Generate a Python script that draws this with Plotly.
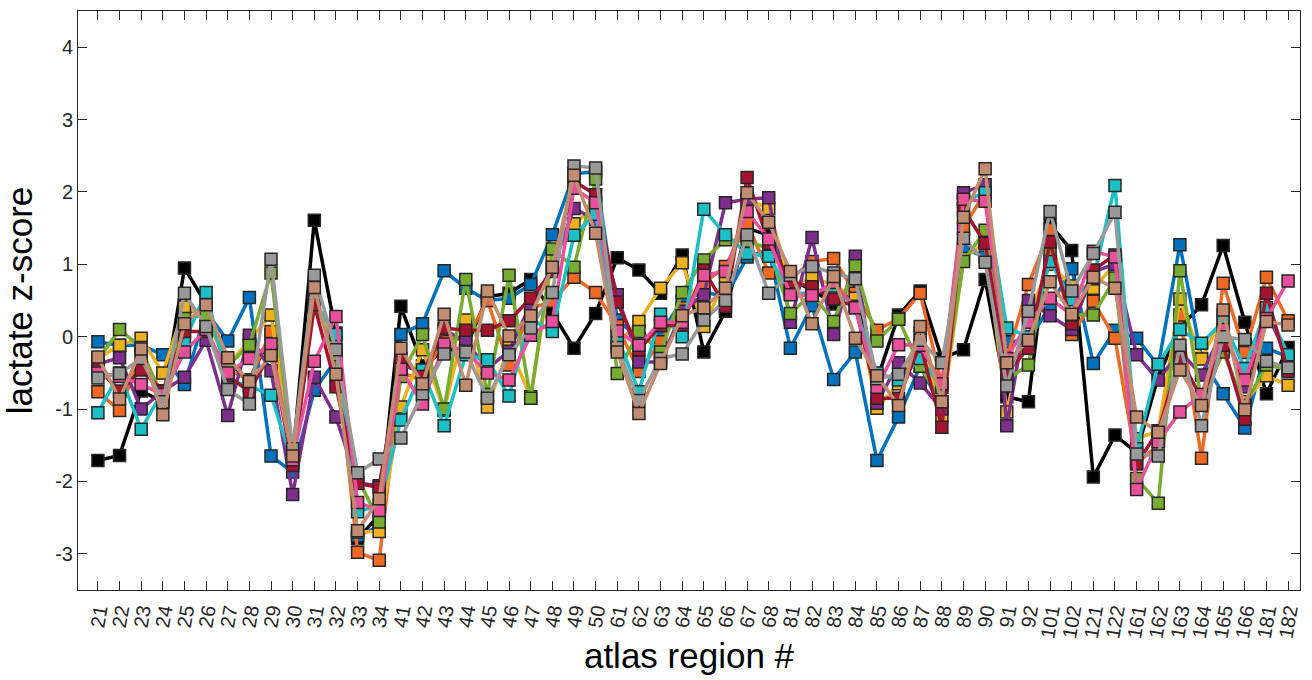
import plotly.graph_objects as go

regions = ["21","22","23","24","25","26","27","28","29","30","31","32","33","34",
           "41","42","43","44","45","46","47","48","49","50",
           "61","62","63","64","65","66","67","68",
           "81","82","83","84","85","86","87","88","89","90",
           "91","92","101","102","121","122",
           "161","162","163","164","165","166","181","182"]

s_black = [-1.71,-1.64,-0.75,-0.9,0.95,0.45,-0.35,-0.6,0.03,-1.7,1.61,0.05,-2.79,-2.47,0.42,-0.4,-0.2,-0.15,0.55,0.6,0.79,0.33,-0.16,0.32,1.09,0.92,0.6,1.13,-0.21,0.35,1.5,1.4,0.78,0.65,0.45,0.62,-0.6,0.3,0.63,-0.3,-0.18,0.79,-0.83,-0.9,1.55,1.19,-1.94,-1.36,-1.6,-0.55,0.12,0.44,1.26,0.2,-0.79,-0.15]
s_blue = [-0.07,-0.12,-0.12,-0.25,-0.66,0.35,-0.06,0.54,-1.65,-1.87,-0.74,-0.32,-2.75,-2.62,0.03,0.18,0.91,0.67,0.5,0.53,0.72,1.41,2.25,2.28,0.23,-0.02,0.05,0.49,0.62,0.55,1.1,1.2,-0.16,0.43,-0.59,-0.21,-1.71,-1.11,-0.4,-1.0,1.22,1.1,-0.07,-0.05,0.42,0.94,-0.37,0.09,-0.02,-0.4,1.27,-0.3,-0.79,-1.26,-0.16,-0.28]
s_orange = [-0.76,-1.02,-0.25,-0.8,0.35,0.35,-0.45,-0.6,0.07,-1.7,0.55,-0.2,-2.98,-3.09,-0.5,-0.6,0.0,-0.05,0.5,-0.39,0.39,0.49,0.82,0.61,0.15,-0.48,-0.07,0.4,0.74,0.97,1.57,0.88,0.8,1.04,1.08,0.6,0.09,0.25,0.6,-0.67,1.5,2.0,-0.3,0.72,1.48,0.03,0.49,-0.02,-1.75,-1.5,0.3,-1.68,0.74,-0.22,0.82,0.22]
s_yellow = [-0.3,-0.12,-0.02,-0.5,0.41,0.3,-0.4,-0.05,0.30,-1.65,0.42,-0.07,-2.7,-2.69,-0.97,-0.18,-1.02,0.23,-0.97,-0.14,-0.83,1.09,1.56,1.8,-0.1,0.21,0.67,1.02,0.14,0.81,1.9,1.77,0.72,0.81,0.72,0.53,-0.99,-0.65,0.05,-1.1,1.08,1.3,-1.04,0.3,1.0,0.7,0.67,1.0,-1.41,-1.3,0.52,-0.31,0.3,-0.9,-0.54,-0.67]
s_purple = [-0.38,-0.29,-1.0,-0.75,-0.56,-0.05,-1.09,0.02,-0.47,-2.18,-0.56,-1.11,-2.02,-2.06,-0.38,-0.5,0.1,-0.07,-0.44,-0.2,0.45,0.95,1.77,1.62,0.58,-0.35,-0.35,0.35,0.58,1.85,1.9,1.92,0.2,1.37,0.03,1.11,-0.92,-0.36,-0.64,-1.0,1.99,2.1,-1.23,0.5,0.29,0.1,0.9,1.0,-0.25,-0.6,-0.2,-0.53,0.1,-0.69,0.35,-0.32]
s_green = [-0.32,0.10,-0.15,-0.88,0.25,0.3,-0.4,-0.12,0.88,-1.7,0.5,-0.25,-1.95,-2.56,-0.55,0.03,-1.0,0.79,-0.8,0.85,-0.85,1.21,0.96,2.18,-0.51,0.07,-0.21,0.61,1.06,1.34,1.32,1.22,0.32,0.6,0.21,0.98,-0.06,0.24,-0.41,-0.9,1.04,1.47,-0.6,-0.39,1.18,0.3,0.3,0.81,-1.96,-2.3,0.91,-0.9,-0.21,-0.95,-0.39,-0.45]
s_cyan = [-1.05,-0.5,-1.28,-0.75,-0.06,0.61,-0.6,-0.68,-0.81,-1.75,0.48,0.03,-2.42,-2.33,-1.15,-0.46,-1.23,-0.25,-0.32,-0.82,0.25,0.07,1.4,1.69,0.0,-0.76,0.31,0.0,1.76,1.41,1.15,1.11,0.6,0.6,0.7,0.4,-0.5,-0.6,-0.3,-0.7,1.87,1.99,0.12,0.0,1.04,0.51,0.8,2.09,-1.55,-0.38,0.1,-0.09,0.21,-0.44,0.4,-0.25]
s_darkred = [-0.44,-0.75,-0.46,-0.75,0.07,0.07,-0.54,-0.76,-0.21,-1.78,0.44,-0.69,-2.03,-2.08,-0.3,-0.55,0.12,0.09,0.09,0.22,0.53,0.9,2.15,1.96,0.48,-0.18,0.15,0.16,0.92,0.42,2.2,1.29,0.76,0.69,0.52,0.42,-0.85,-0.85,-0.1,-1.25,1.76,1.29,-0.5,-0.16,1.31,0.18,0.92,1.13,-1.76,-1.3,-0.3,-0.85,-0.12,-1.14,0.6,-0.48]
s_pink = [-0.5,-0.55,-0.66,-0.8,-0.21,0.1,-0.5,-0.3,-0.1,-1.7,-0.34,0.28,-2.29,-2.4,-0.45,-0.93,-0.1,-0.2,-0.5,-0.6,0.02,0.21,2.05,1.85,0.08,-0.12,0.2,0.2,0.85,0.9,1.73,1.35,0.58,0.57,0.75,0.4,-0.7,-0.11,-0.12,-0.65,1.9,1.87,-0.3,0.2,0.53,0.3,1.18,1.1,-2.11,-1.45,-1.04,-0.8,0.1,-0.6,0.25,0.77]
s_gray = [-0.57,-0.51,-0.3,-0.9,0.60,0.14,-0.73,-0.93,1.07,-1.55,0.85,-0.18,-1.88,-1.69,-1.4,-0.79,-0.24,-0.21,-0.85,-0.25,0.12,0.61,2.36,2.33,-0.15,-0.88,-0.3,-0.24,0.23,0.5,1.41,0.6,0.85,0.97,0.88,0.8,-0.58,-0.52,-0.05,-0.36,1.36,1.03,-0.68,0.35,1.73,0.63,1.15,1.72,-1.62,-1.65,-0.12,-1.23,0.0,-0.04,-0.34,-0.43]
s_tan = [-0.28,-0.86,-0.17,-1.08,0.18,0.44,-0.29,-0.62,-0.26,-1.65,0.68,-0.52,-2.68,-2.24,-0.16,-0.65,0.31,-0.67,0.63,0.01,0.29,0.96,2.23,1.43,-0.21,-1.06,-0.37,0.29,0.40,0.67,1.99,1.58,0.9,0.18,0.83,-0.02,-0.54,-0.95,0.14,-0.9,1.65,2.32,-0.36,-0.05,0.76,0.31,0.82,0.67,-1.11,-1.32,-0.46,-0.95,0.37,-1.01,0.21,0.16]

series = [
    (s_black, "#000000"),
    (s_blue, "#0072BD"),
    (s_orange, "#EE6A24"),
    (s_yellow, "#EDB120"),
    (s_purple, "#7E2F8E"),
    (s_green, "#77AC30"),
    (s_cyan, "#1BBFC6"),
    (s_darkred, "#A2142F"),
    (s_pink, "#E8509A"),
    (s_gray, "#999999"),
    (s_tan, "#C18C70"),
]

fig = go.Figure()
for vals, col in series:
    fig.add_trace(go.Scatter(
        x=regions, y=vals, mode="lines+markers",
        line=dict(color=col, width=3.5),
        marker=dict(symbol="square", size=12, color=col,
                    line=dict(color="#262626", width=1.5)),
        showlegend=False, hoverinfo="skip"))

font_family = "Liberation Sans, Arial, sans-serif"
fig.update_layout(
    width=1312, height=680,
    margin=dict(l=78, r=10, t=10, b=90),
    paper_bgcolor="white", plot_bgcolor="white",
    font=dict(family=font_family, color="#262626"),
    xaxis=dict(
        type="category", range=[-0.92, 55.55],
        tickmode="linear", tick0=0, dtick=1,
        showline=True, linecolor="#262626", linewidth=1, mirror="ticks",
        ticks="inside", ticklen=9, tickcolor="#262626", tickwidth=1,
        tickangle=-80, tickfont=dict(size=20, color="#262626"),
        showgrid=False, zeroline=False,
        title=dict(text="atlas region #", font=dict(size=35, color="#000000"), standoff=4),
    ),
    yaxis=dict(
        range=[-3.5, 4.5], tickvals=[-3, -2, -1, 0, 1, 2, 3, 4],
        ticktext=["-3", "-2", "-1", "0", "1", "2", "3", "4"],
        showline=True, linecolor="#262626", linewidth=1, mirror="ticks",
        ticks="inside", ticklen=9, tickcolor="#262626", tickwidth=1,
        tickfont=dict(size=20, color="#262626"),
        showgrid=False, zeroline=False,
        title=dict(text="lactate z-score", font=dict(size=35, color="#000000"), standoff=12),
    ),
)

fig.write_html("out.html")
